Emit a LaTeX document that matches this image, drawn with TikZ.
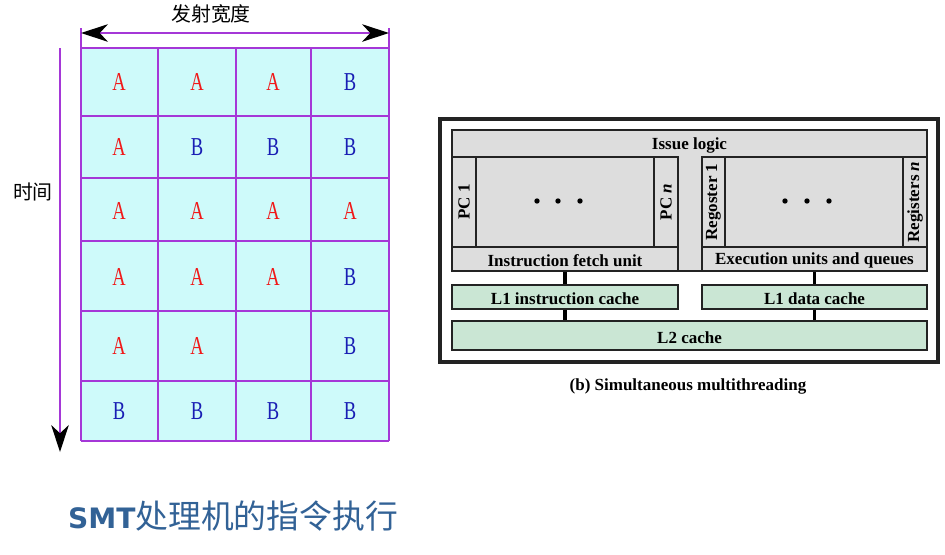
\documentclass[tikz,border=0pt]{standalone}
\usepackage{fontspec}
\usepackage{graphicx}
\setmainfont{Liberation Serif}
\newfontfamily\cjk{Noto Sans CJK SC}
\newfontfamily\titlefont{DejaVu Sans}
\usetikzlibrary{arrows.meta,fit}
\definecolor{gridpurple}{RGB}{165,55,215}
\definecolor{cellfill}{RGB}{206,250,250}
\definecolor{letterA}{RGB}{240,25,25}
\definecolor{letterB}{RGB}{25,30,180}
\colorlet{letter}{black}
\definecolor{boxline}{RGB}{35,35,35}
\definecolor{boxgray}{RGB}{221,221,221}
\definecolor{boxgreen}{RGB}{202,230,212}
\definecolor{titleblue}{RGB}{50,98,150}
\begin{document}
\begin{tikzpicture}[x=0.03cm,y=-0.03cm,
	Big/.tip={Stealth[length=23pt,width=15pt,inset=7pt,color=black]},
	grid line/.style={draw=gridpurple,line width=1.1pt},
	cell/.style={inner sep=0pt,font=\fontsize{22}{22}\selectfont},
	cjklabel/.style={font=\cjk\fontsize{17}{17}\selectfont},
	box/.style={draw=boxline,line width=1.2pt,inner sep=0pt},
	boxtext/.style={font=\bfseries\fontsize{14.5}{14.5}\selectfont,inner sep=0pt},
	rowtext/.style={boxtext,yshift=-1.5pt},
	graybox/.style={box,fill=boxgray},
	greenbox/.style={box,fill=boxgreen},
	frame/.style={draw=boxline,line width=2.6pt,inner sep=0pt},
	bus/.style={draw=black,line width=2.6pt}]
	\useasboundingbox (0,0) rectangle (945,554);
	% issue slots over time
	\fill[cellfill] (81,48) rectangle (389,441);
	\foreach \y in {48,116,178,241,311,381,441}
		\draw[grid line] (81,\y) -- (389,\y);
	\foreach \x/\ya in {81/28,158/48,236/48,311/48,389/28}
		\draw[grid line] (\x,\ya) -- (\x,441);
	\foreach \y/\la/\lb/\lc/\ld [count=\r] in {82/A/A/A/B,147/A/B/B/B,211/A/A/A/A,277/A/A/A/B,346/A/A//B,411/B/B/B/B}{
		\node[cell,text=letter\la] (c\r-1) at (119,\y) {\scalebox{0.72}[1]{\la}};
		\node[cell,text=letter\lb] (c\r-2) at (197,\y) {\scalebox{0.72}[1]{\lb}};
		\node[cell,text=letter\lc] (c\r-3) at (273,\y) {\scalebox{0.72}[1]{\lc}};
		\node[cell,text=letter\ld] (c\r-4) at (350,\y) {\scalebox{0.72}[1]{\ld}};
	}
	\coordinate (wl) at (81,33);
	\coordinate (wr) at (389,33);
	\draw[grid line,Big-Big] (wl) -- (wr);
	\node[cjklabel] (width) at (211,14) {发射宽度};
	\coordinate (tt) at (60,48);
	\coordinate (tb) at (60,452);
	\draw[grid line,-Big] (tt) -- (tb);
	\node[cjklabel] (time) at (33,192) {时间};
	% SMT processor
	\node[frame,fit={(440,119)(938,362)}] (smt) {};
	\draw[boxline,fill=boxgray,line width=1.2pt] (452,130) -- (927,130) -- (927,157) -- (702,157)
		-- (702,271) -- (678,271) -- (678,157) -- (452,157) -- cycle;
	\node[rowtext] (issue) at (689.5,143.5) {Issue logic};
	\node[graybox,fit={(452,157)(476,247)},label={[boxtext,rotate=90]center:PC 1}] (pc1) {};
	\node[graybox,fit={(476,157)(654,247)}] (threads) {};
	\node[graybox,fit={(654,157)(678,247)},label={[boxtext,rotate=90]center:PC \textit{n}}] (pcn) {};
	\node[graybox,fit={(452,247)(678,271)},label={[rowtext]center:Instruction fetch unit}] (fetch) {};
	\node[graybox,fit={(702,157)(725,247)},label={[boxtext,rotate=90]center:Regoster 1}] (reg1) {};
	\node[graybox,fit={(725,157)(903,247)}] (units) {};
	\node[graybox,fit={(903,157)(927,247)},label={[boxtext,rotate=90]center:Registers \textit{n}}] (regn) {};
	\node[graybox,fit={(702,247)(927,271)},label={[rowtext]center:Execution units and queues}] (exec) {};
	\foreach \x in {537,558,580,785,807,829}
		\fill (\x,201) circle[radius=2.3pt];
	\node[greenbox,fit={(452,285)(678,309)},label={[rowtext]center:L1 instruction cache}] (l1i) {};
	\node[greenbox,fit={(702,285)(927,309)},label={[rowtext]center:L1 data cache}] (l1d) {};
	\node[greenbox,fit={(452,321)(927,350)},label={[rowtext]center:L2 cache}] (l2) {};
	\draw[bus] (fetch) -- (l1i);
	\draw[bus] (l1i) -- (l1i |- l2.north);
	\draw[bus] (exec) -- (l1d);
	\draw[bus] (l1d) -- (l1d |- l2.north);
	\node[font=\bfseries\fontsize{14.5}{14.5}\selectfont] (caption) at (688,386) {(b) Simultaneous multithreading};
	\node[anchor=west,text=titleblue] (title) at (64,516)
		{\titlefont\bfseries\fontsize{24}{24}\selectfont SMT\cjk\mdseries\fontsize{28}{28}\selectfont 处理机的指令执行};
\end{tikzpicture}
\end{document}
